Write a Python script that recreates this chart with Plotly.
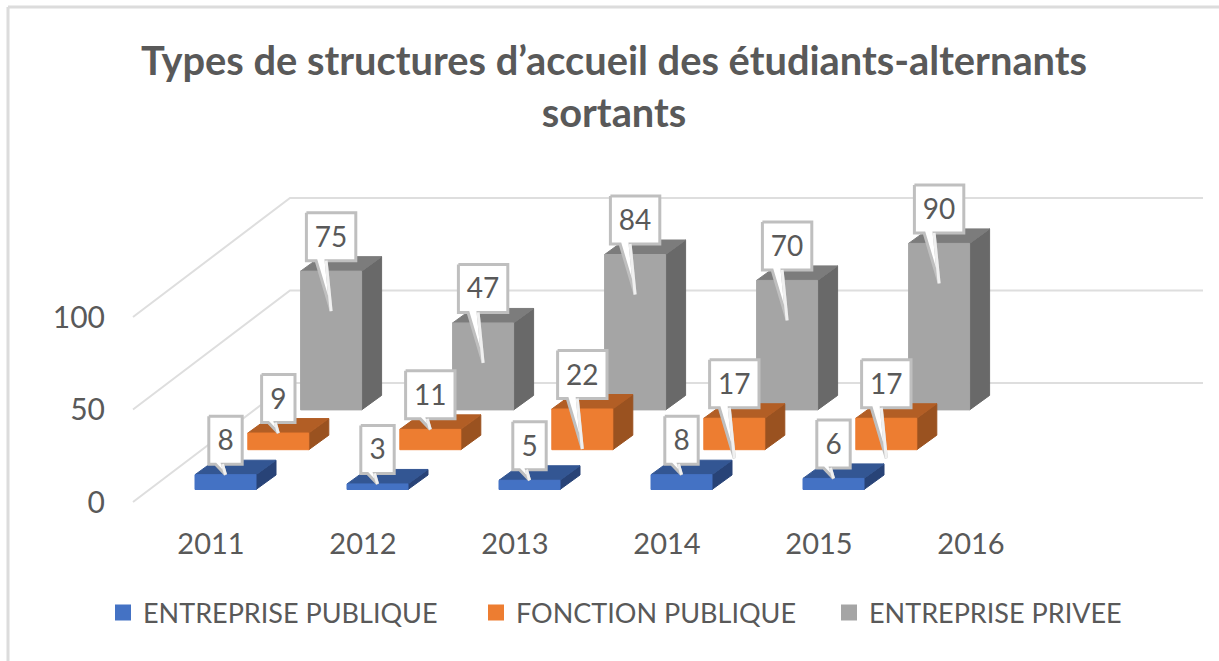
import plotly.graph_objects as go

# ---- data ----
categories = ["2011", "2012", "2013", "2014", "2015", "2016"]
series_names = ["ENTREPRISE PUBLIQUE", "FONCTION PUBLIQUE", "ENTREPRISE PRIVEE"]
entreprise_publique = [8, 3, 5, 8, 6]
fonction_publique = [9, 11, 22, 17, 17]
entreprise_privee = [75, 47, 84, 70, 90]
gridline_values = [0, 50, 100]

series_values = [entreprise_publique, fonction_publique, entreprise_privee]

# ---- styles: (front, top, side) ----
face_colors = [
    ("#4472C4", "#335693", "#284377"),
    ("#ED7D31", "#B25E25", "#9A5220"),
    ("#A5A5A5", "#7C7C7C", "#696969"),
]
TEXT = "#595959"
GRID = "#DEDEDE"
CALLOUT = "#BFBFBF"
FONT = "Lato"

# ---- oblique 3D projection expressed in axis units ----
PX_CAT = 152.0     # pixels per category
PX_VAL = 1.85      # pixels per value unit
W, H = 1219, 661
PLOT_L, PLOT_R, PLOT_T, PLOT_B = 112, 1208, 170, 522
X0_PX, Y0_PX = 211, 502   # where category 0 / value 0 fall on the page


def dx(p):
    return p / PX_CAT


def dy(p):
    return p / PX_VAL


row_dx, row_dy = dx(52.8), dy(39.8)      # shift between depth rows
bar_left, bar_w = dx(-16), dx(61)        # first row, first bar
bar_dx, bar_dy = dx(20), dy(14.5)        # extrusion of a bar
base_dy = dy(12.5)                       # front row floor height
wall_dx, wall_dy = dx(157), dy(119)      # floor depth
wall_left = dx(133 - X0_PX)
wall_right = dx(1203 - X0_PX)

fig = go.Figure()

# gridlines on the side wall and the back wall
gx, gy = [], []
for v in gridline_values:
    gx += [wall_left, wall_left + wall_dx, wall_right, None]
    gy += [v, v + wall_dy, v + wall_dy, None]
fig.add_trace(go.Scatter(x=gx, y=gy, mode="lines", line=dict(color=GRID, width=2),
                         hoverinfo="skip", showlegend=False))


def poly(xs, ys, color):
    fig.add_trace(go.Scatter(x=xs, y=ys, mode="lines", fill="toself", fillcolor=color,
                             line=dict(color=color, width=1), hoverinfo="skip",
                             showlegend=False))


# bars, back row first
for s in (2, 1, 0):
    front_c, top_c, side_c = face_colors[s]
    fx, fy, tx, ty, sx, sy = [], [], [], [], [], []
    for i, v in enumerate(series_values[s]):
        l = i + bar_left + s * row_dx
        r = l + bar_w
        b = base_dy + s * row_dy
        t = b + v
        fx += [l, r, r, l, l, None]
        fy += [b, b, t, t, b, None]
        tx += [l, r, r + bar_dx, l + bar_dx, l, None]
        ty += [t, t, t + bar_dy, t + bar_dy, t, None]
        sx += [r, r + bar_dx, r + bar_dx, r, r, None]
        sy += [b, b + bar_dy, t + bar_dy, t, b, None]
    poly(sx, sy, side_c)
    poly(tx, ty, top_c)
    poly(fx, fy, front_c)

# callouts
cx, cy, ex, ey, lx, ly, lt = [], [], [], [], [], [], []
for s in (2, 1, 0):
    for i, v in enumerate(series_values[s]):
        l = i + bar_left + s * row_dx
        c = l + bar_w / 2
        t = base_dy + s * row_dy + v
        long_ptr = v >= 17
        half = dx(24.7 if v >= 10 else 16.7)
        low = t + dy(10.5)
        high = low + dy(48)
        tip = t - dy(40 if long_ptr else 0)
        b1, b2 = (c + dx(-15), c + dx(-5)) if long_ptr else (c + dx(-10), c + dx(-3))
        cx += [c - half, c + half, c + half, b2, c, b1, c - half, c - half, None]
        cy += [high, high, low, low, tip, low, low, high, None]
        ex += [b2, c, None]
        ey += [low, tip, None]
        lx.append(c)
        ly.append((low + high) / 2 - dy(3))
        lt.append(str(v))
fig.add_trace(go.Scatter(x=cx, y=cy, mode="lines", fill="toself", fillcolor="#FFFFFF",
                         line=dict(color=CALLOUT, width=3), hoverinfo="skip", showlegend=False))
fig.add_trace(go.Scatter(x=ex, y=ey, mode="lines", line=dict(color="#F0F0F0", width=3),
                         hoverinfo="skip", showlegend=False))
fig.add_trace(go.Scatter(x=lx, y=ly, mode="text", text=lt, textposition="middle center",
                         textfont=dict(family=FONT, size=28, color=TEXT), hoverinfo="skip",
                         showlegend=False))

# legend entries, each in its own legend so that it can sit where the reference has it
legend_ids = ["legend", "legend2", "legend3"]
legend_left = [103, 476, 829]
for name, cols, lid in zip(series_names, face_colors, legend_ids):
    fig.add_trace(go.Scatter(x=[None], y=[None], mode="markers", name=name, legend=lid,
                             showlegend=True,
                             marker=dict(symbol="square", size=17, color=cols[0])))

legends = {
    lid: dict(orientation="h", x=left / W, xref="container", y=1 - 613 / H, yref="container",
              xanchor="left", yanchor="middle", itemwidth=30,
              font=dict(family=FONT, size=27, color=TEXT))
    for lid, left in zip(legend_ids, legend_left)
}


def px_x(p):
    return (p - PLOT_L) / (PLOT_R - PLOT_L)


def px_y(p):
    return (PLOT_B - p) / (PLOT_B - PLOT_T)


fig.update_layout(
    width=W, height=H, autosize=False,
    paper_bgcolor="white", plot_bgcolor="white",
    margin=dict(l=PLOT_L, r=W - PLOT_R, t=PLOT_T, b=H - PLOT_B, autoexpand=False),
    title=dict(text="Types de structures d’accueil des étudiants-alternants<br>sortants",
               x=614 / W, xanchor="center", y=1 - 75 / H, yanchor="top",
               font=dict(family=FONT, size=39.8, color=TEXT, weight="bold")),
    xaxis=dict(range=[(PLOT_L - X0_PX) / PX_CAT, (PLOT_R - X0_PX) / PX_CAT],
               tickmode="array", tickvals=list(range(len(categories))), ticktext=categories,
               showgrid=False, zeroline=False, showline=False,
               ticks="", ticklabelstandoff=2,
               tickfont=dict(family=FONT, size=29, color=TEXT)),
    yaxis=dict(range=[(Y0_PX - PLOT_B) / PX_VAL, (Y0_PX - PLOT_T) / PX_VAL],
               tickmode="array", tickvals=gridline_values,
               showgrid=False, zeroline=False, showline=False,
               ticks="", ticklabelstandoff=6,
               tickfont=dict(family=FONT, size=30, color=TEXT)),
    shapes=[
        dict(type="line", xref="paper", yref="paper", x0=px_x(8), x1=px_x(8),
             y0=px_y(661), y1=px_y(7), line=dict(color="#DCDCDC", width=3), layer="below"),
        dict(type="line", xref="paper", yref="paper", x0=px_x(8), x1=px_x(1219),
             y0=px_y(7), y1=px_y(7), line=dict(color="#DCDCDC", width=3), layer="below"),
    ],
    **legends,
)

fig.write_html("out.html", config=dict(displayModeBar=False),
               post_script="document.body.style.margin='0';")
